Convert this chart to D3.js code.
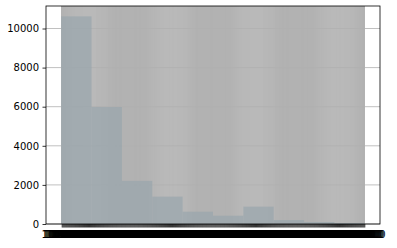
<!DOCTYPE html>
<html>
<head>
<meta charset="utf-8">
<script src="https://cdn.jsdelivr.net/npm/d3@7"></script>
<style>
  body { margin: 0; background: #fff; }
  svg text { font-family: "DejaVu Sans", sans-serif; font-size: 10px; fill: #000; }
</style>
</head>
<body>
<div id="chart"></div>
<script>
// bins: each bin covers binSize consecutive categories
var binValues = [10620, 5985, 2205, 1400, 630, 425, 887, 200, 100, 50];
var binSize = 30;
// x categories (labels overlap in the original, unreadable)
var categories = d3.range(binValues.length * binSize).map(function(i) {
    return d3.format(".1f")(10000 + i * 100);
});
var yTicks = [0, 2000, 4000, 6000, 8000, 10000];

var margin = { top: 6, right: 17, bottom: 24, left: 46 };
var width = 397 - margin.left - margin.right;
var height = 248 - margin.top - margin.bottom;

var svg = d3.select('#chart')
    .append('svg')
    .attr('width', 397)
    .attr('height', 248)
    .append('g')
    .attr('transform', "translate(" + margin.left + "," + margin.top + ")");

var n = categories.length;
var xScale = d3.scaleLinear()
    .domain([-0.5 - 0.05 * n, n - 0.5 + 0.05 * n])
    .range([0, width]);

var yMax = d3.max(binValues) * 1.05;
var yScale = d3.scaleLinear()
    .domain([0, yMax])
    .range([height, 0]);

// grid (dense category grid reads as a gray block)
svg.append('g')
    .attr('class', 'x-grid')
    .selectAll('line')
    .data(d3.range(n))
    .enter().append('line')
    .attr('x1', function(d) { return xScale(d); })
    .attr('x2', function(d) { return xScale(d); })
    .attr('y1', 0)
    .attr('y2', height)
    .attr('stroke', '#b2b2b2')
    .attr('stroke-width', 1.4);

svg.append('g')
    .attr('class', 'y-grid')
    .selectAll('line')
    .data(yTicks)
    .enter().append('line')
    .attr('x1', 0)
    .attr('x2', width)
    .attr('y1', function(d) { return yScale(d); })
    .attr('y2', function(d) { return yScale(d); })
    .attr('stroke', '#b0b0b0')
    .attr('stroke-width', 0.8);

// bars
svg.selectAll('.bar')
    .data(binValues)
    .enter().append('rect')
    .attr('class', 'bar')
    .attr('x', function(d, i) { return xScale(i * binSize - 0.5); })
    .attr('width', function(d, i) { return xScale((i + 1) * binSize - 0.5) - xScale(i * binSize - 0.5); })
    .attr('y', function(d) { return yScale(d); })
    .attr('height', function(d) { return height - yScale(d); })
    .attr('fill', '#99a5ac')
    .attr('fill-opacity', 0.7);

// axes
var xAxis = d3.axisBottom(xScale)
    .tickValues(d3.range(n))
    .tickFormat(function(d) { return categories[d]; })
    .tickSize(3.5)
    .tickPadding(3.5);

var yAxis = d3.axisLeft(yScale)
    .tickValues(yTicks)
    .tickFormat(d3.format('d'))
    .tickSize(3.5)
    .tickPadding(3.5);

var gx = svg.append('g')
    .attr('class', 'x-axis')
    .attr('transform', "translate(0," + height + ")")
    .call(xAxis);
var gy = svg.append('g')
    .attr('class', 'y-axis')
    .call(yAxis);

[gx, gy].forEach(function(g) {
    g.select('.domain').remove();
    g.selectAll('line').attr('stroke', '#000').attr('stroke-width', 0.8);
    g.selectAll('text').style('font-family', '"DejaVu Sans", sans-serif').style('font-size', '10px');
});

// frame
svg.append('rect')
    .attr('x', 0)
    .attr('y', 0)
    .attr('width', width)
    .attr('height', height)
    .attr('fill', 'none')
    .attr('stroke', '#000')
    .attr('stroke-width', 0.8);
</script>
</body>
</html>
